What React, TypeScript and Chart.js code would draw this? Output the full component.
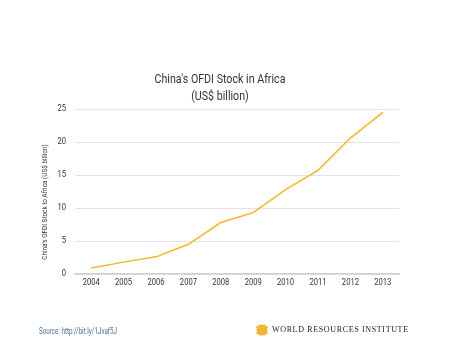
import React, { useEffect, useRef } from "react";
import { Chart, registerables } from "chart.js";

Chart.register(...registerables);

const years = ["2004", "2005", "2006", "2007", "2008", "2009", "2010", "2011", "2012", "2013"];
const stock = [0.9, 1.8, 2.6, 4.5, 7.8, 9.3, 12.8, 15.7, 20.6, 24.5];
const titleLines = ["China's OFDI Stock in Africa", "(US$ billion)"];
const yTitle = "China's OFDI Stock to Africa (US$ billion)";
const sourceText = "Source: http://bit.ly/1Jvaf5J";
const orgName = "WORLD RESOURCES INSTITUTE";

const FONT = "Roboto, 'Liberation Sans', sans-serif";

function drawCondensed(ctx: any, text: string, x: number, y: number, size: number, sx: number, align: string, rot = 0) {
  ctx.save();
  ctx.translate(x, y);
  if (rot) ctx.rotate(rot);
  ctx.scale(sx, 1);
  ctx.font = `${size}px ${FONT}`;
  ctx.textAlign = align;
  ctx.textBaseline = "middle";
  ctx.fillText(text, 0, 0);
  ctx.restore();
}

const textPlugin = {
  id: "texts",
  afterDraw(chart: any) {
    const ctx = chart.ctx;
    ctx.save();
    ctx.fillStyle = "#333";
    drawCondensed(ctx, titleLines[0], 220, 80, 13, 0.82, "center");
    drawCondensed(ctx, titleLines[1], 220, 97, 13, 0.82, "center");
    const xs = chart.scales.x;
    xs.ticks.forEach((t: any, i: number) => {
      drawCondensed(ctx, String(xs.getLabelForValue(t.value)), xs.getPixelForTick(i), 283, 9.5, 0.8, "center");
    });
    const ys = chart.scales.y;
    ys.ticks.forEach((t: any, i: number) => {
      drawCondensed(ctx, String(t.value), 66, ys.getPixelForTick(i), 9.5, 0.8, "right");
    });
    drawCondensed(ctx, yTitle, 44.5, 202, 8, 0.8, "center", -Math.PI / 2);
    ctx.restore();
  },
};

function Logo() {
  const dots: any[] = [];
  for (let i = -4; i <= 4; i++) {
    for (let j = -4; j <= 4; j++) {
      const x = i * 1.6 + (Math.abs(j) % 2 ? 0.8 : 0);
      const y = j * 1.5;
      if (x * x + y * y <= 33) dots.push(<circle key={`${i}-${j}`} cx={6 + x} cy={6 + y} r={0.95} fill="#f2ac18" />);
    }
  }
  return (
    <svg width={12} height={12} style={{ position: "absolute", left: 256, top: 324 }}>
      {dots}
    </svg>
  );
}

export default function App() {
  const ref = useRef<HTMLCanvasElement>(null);
  useEffect(() => {
    if (!ref.current) return;
    const chart = new Chart(ref.current, {
      type: "line",
      data: {
        labels: years,
        datasets: [
          {
            data: stock,
            borderColor: "#f5b622",
            borderWidth: 1.5,
            pointRadius: 0,
            tension: 0,
            fill: false,
          },
        ],
      },
      options: {
        animation: false,
        responsive: false,
        layout: { padding: { top: 109, left: 0, right: 56, bottom: 48 } },
        plugins: { legend: { display: false }, tooltip: { enabled: false }, title: { display: false } },
        scales: {
          x: {
            offset: true,
            grid: { display: false, drawTicks: false },
            border: { display: true, color: "#cfcfcf", width: 1.5 },
            ticks: { display: false, autoSkip: false },
            afterFit: (s: any) => { s.height = 30; },
          },
          y: {
            min: 0,
            max: 25,
            ticks: { stepSize: 5, display: false },
            grid: { color: "#e3e3e3", lineWidth: 1, drawTicks: false },
            border: { display: false },
            afterFit: (s: any) => { s.width = 75; },
          },
        },
      },
      plugins: [textPlugin],
    });
    return () => chart.destroy();
  }, []);
  return (
    <div style={{ position: "absolute", left: 0, top: 0, width: 455, height: 352, background: "#fff" }}>
      <canvas ref={ref} width={455} height={352} style={{ position: "absolute", left: 0, top: 0 }} />
      <div style={{ position: "absolute", left: 39, top: 325, fontFamily: FONT, fontSize: 9.5, color: "#4f6f93", lineHeight: "12px", whiteSpace: "nowrap", transform: "scaleX(0.66)", transformOrigin: "left center" }}>
        {sourceText}
      </div>
      <Logo />
      <div style={{ position: "absolute", left: 272, top: 325, fontFamily: "'Liberation Serif', 'DejaVu Serif', serif", fontSize: 8, color: "#222", letterSpacing: 0.65, lineHeight: "10px", whiteSpace: "nowrap" }}>
        {orgName}
      </div>
    </div>
  );
}
